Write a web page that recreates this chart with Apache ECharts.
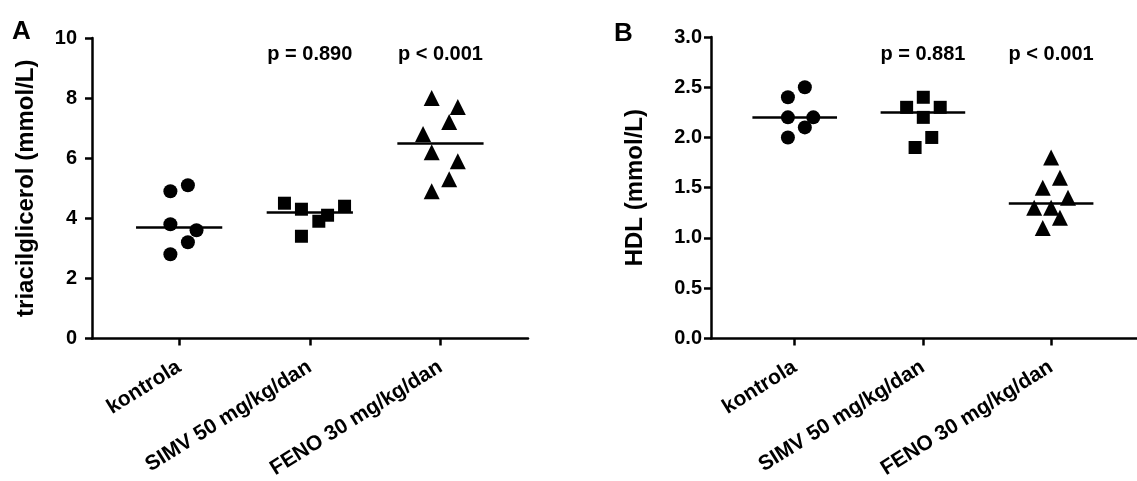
<!DOCTYPE html>
<html>
<head>
<meta charset="utf-8">
<script src="https://cdn.jsdelivr.net/npm/echarts@6/dist/echarts.min.js"></script>
<style>
  html, body { margin: 0; padding: 0; background: #fff; }
  #chart { width: 1137px; height: 481px; }
</style>
</head>
<body>
<div id="chart"></div>
<script>
// grupe
const categories = ['kontrola', 'SIMV 50 mg/kg/dan', 'FENO 30 mg/kg/dan'];

// A - triacilglicerol (mmol/L)
const kontrolaA = [4.9, 5.1, 3.8, 3.6, 3.2, 2.8];
const kontrolaAOffset = [-0.067, 0.067, -0.067, 0.133, 0.067, -0.067];
const simvA = [4.5, 4.3, 3.9, 4.1, 4.4, 3.4];
const simvAOffset = [-0.194, -0.064, 0.069, 0.136, 0.266, -0.064];
const fenoA = [8.0, 7.7, 7.2, 6.8, 6.2, 5.9, 5.3, 4.9];
const fenoAOffset = [-0.067, 0.133, 0.067, -0.133, -0.067, 0.133, 0.067, -0.067];
const medianA = [3.7, 4.2, 6.5];
const pLabelsA = ['', 'p = 0.890', 'p < 0.001'];
const yTicksA = [0, 2, 4, 6, 8, 10];

// B - HDL (mmol/L)
const kontrolaB = [2.4, 2.5, 2.2, 2.2, 2.1, 2.0];
const kontrolaBOffset = [-0.053, 0.079, -0.053, 0.145, 0.079, -0.053];
const simvB = [2.4, 2.3, 2.3, 2.2, 2.0, 1.9];
const simvBOffset = [0.003, -0.127, 0.135, 0.003, 0.069, -0.061];
const fenoB = [1.8, 1.6, 1.5, 1.4, 1.3, 1.3, 1.2, 1.1];
const fenoBOffset = [0, 0.069, -0.065, 0.132, -0.132, 0, 0.069, -0.065];
const medianB = [2.2, 2.25, 1.35];
const pLabelsB = ['', 'p = 0.881', 'p < 0.001'];
const yTicksB = [0, 0.5, 1.0, 1.5, 2.0, 2.5, 3.0];

const symbols = ['circle', 'rect', 'triangle'];
const symbolSizes = [14, 13, 16];
const font = '"Liberation Sans", Arial, sans-serif';
const halfLine = 0.33;

function points(vals, offs, pos) {
    let out = [];
    for (let i = 0; i < vals.length; i++) {
        out.push([pos + offs[i], vals[i]]);
    }
    return out;
}

function xAxisFor(gridIndex, min) {
    return {
        type: 'value',
        gridIndex: gridIndex,
        min: min,
        max: 3.67,
        axisLine: { show: true, lineStyle: { color: '#000', width: 2.5 } },
        axisTick: { show: true, customValues: [1, 2, 3], length: 7, lineStyle: { color: '#000', width: 2.5 } },
        axisLabel: {
            customValues: [1, 2, 3],
            rotate: 32,
            margin: 27,
            color: '#000',
            fontFamily: font,
            fontWeight: 'bold',
            fontSize: 21,
            formatter: function (v) { return categories[Math.round(v) - 1]; }
        },
        splitLine: { show: false }
    };
}

function yAxisFor(gridIndex, ticks, name, nameGap, margin, digits) {
    return {
        type: 'value',
        gridIndex: gridIndex,
        min: ticks[0],
        max: ticks[ticks.length - 1],
        interval: ticks[1] - ticks[0],
        name: name,
        nameLocation: 'middle',
        nameGap: nameGap,
        nameTextStyle: { color: '#000', fontFamily: font, fontWeight: 'bold', fontSize: 24 },
        axisLine: { show: true, lineStyle: { color: '#000', width: 2.5 } },
        axisTick: { show: true, length: 7, lineStyle: { color: '#000', width: 2.5 } },
        axisLabel: {
            margin: margin,
            color: '#000',
            fontFamily: font,
            fontWeight: 'bold',
            fontSize: 20,
            formatter: function (v) { return v.toFixed(digits); }
        },
        splitLine: { show: false }
    };
}

function groupSeries(axisIndex, vals, offs, pos, median) {
    return {
        type: 'scatter',
        xAxisIndex: axisIndex,
        yAxisIndex: axisIndex,
        symbol: symbols[pos - 1],
        symbolSize: symbolSizes[pos - 1],
        itemStyle: { color: '#000', opacity: 1 },
        data: points(vals, offs, pos),
        silent: true,
        markLine: {
            silent: true,
            symbol: 'none',
            label: { show: false },
            lineStyle: { color: '#000', width: 2.5, type: 'solid', opacity: 1 },
            data: [[{ coord: [pos - halfLine, median] }, { coord: [pos + halfLine, median] }]]
        }
    };
}

function pSeries(axisIndex, labels, yVal) {
    let data = [];
    for (let i = 0; i < labels.length; i++) {
        if (labels[i]) data.push({ value: [i + 1, yVal], name: labels[i] });
    }
    return {
        type: 'scatter',
        xAxisIndex: axisIndex,
        yAxisIndex: axisIndex,
        symbolSize: 1,
        itemStyle: { color: 'transparent', opacity: 1 },
        silent: true,
        label: {
            show: true,
            position: 'inside',
            color: '#000',
            opacity: 1,
            fontFamily: font,
            fontWeight: 'bold',
            fontSize: 20,
            formatter: function (p) { return p.name; }
        },
        data: data
    };
}

let myChart = echarts.init(document.getElementById('chart'));
myChart.setOption({
    animation: false,
    backgroundColor: '#fff',
    grid: [
        { left: 92, top: 38, width: 436, height: 304 },
        { left: 711, top: 37, width: 436, height: 305 }
    ],
    xAxis: [xAxisFor(0, 0.333), xAxisFor(1, 0.347)],
    yAxis: [
        yAxisFor(0, yTicksA, 'triacilglicerol (mmol/L)', 54, 15, 0),
        yAxisFor(1, yTicksB, 'HDL (mmol/L)', 64, 9, 1)
    ],
    graphic: [
        { type: 'text', left: 12, top: 19, style: { text: 'A', fill: '#000', font: 'bold 26px ' + font } },
        { type: 'text', left: 614, top: 21, style: { text: 'B', fill: '#000', font: 'bold 26px ' + font } }
    ],
    series: [
        groupSeries(0, kontrolaA, kontrolaAOffset, 1, medianA[0]),
        groupSeries(0, simvA, simvAOffset, 2, medianA[1]),
        groupSeries(0, fenoA, fenoAOffset, 3, medianA[2]),
        pSeries(0, pLabelsA, 9.44),
        groupSeries(1, kontrolaB, kontrolaBOffset, 1, medianB[0]),
        groupSeries(1, simvB, simvBOffset, 2, medianB[1]),
        groupSeries(1, fenoB, fenoBOffset, 3, medianB[2]),
        pSeries(1, pLabelsB, 2.83)
    ]
});
</script>
</body>
</html>
